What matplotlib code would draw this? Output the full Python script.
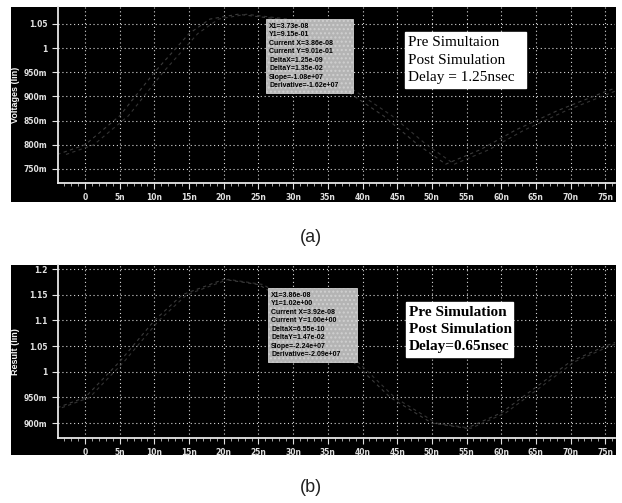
import numpy as np
import matplotlib
matplotlib.use("Agg")
import matplotlib.pyplot as plt
from matplotlib.patches import Rectangle

# ---------------- data ----------------
x_ticks = [0, 5, 10, 15, 20, 25, 30, 35, 40, 45, 50, 55, 60, 65, 70, 75]
x_tick_labels = ["0", "5n", "10n", "15n", "20n", "25n", "30n", "35n", "40n",
                 "45n", "50n", "55n", "60n", "65n", "70n", "75n"]

a_y_ticks = [0.75, 0.80, 0.85, 0.90, 0.95, 1.00, 1.05]
a_y_labels = ["750m", "800m", "850m", "900m", "950m", "1", "1.05"]
b_y_ticks = [0.90, 0.95, 1.00, 1.05, 1.10, 1.15, 1.20]
b_y_labels = ["900m", "950m", "1", "1.05", "1.1", "1.15", "1.2"]

# traces (time in ns, value in V) - faint in the original print
a_t = [-4, 0, 5, 10, 15, 18, 22, 28, 33, 37.3, 43, 48, 52, 57, 62, 68, 75, 77]
a_pre = [0.78, 0.80, 0.86, 0.95, 1.03, 1.06, 1.07, 1.06, 1.00, 0.915, 0.86, 0.80, 0.76, 0.79, 0.83, 0.87, 0.91, 0.92]
a_delay = 1.25

b_t = [-4, 0, 5, 10, 14, 20, 25, 30, 35, 38.6, 44, 50, 55, 60, 66, 70, 75, 77]
b_pre = [0.93, 0.95, 1.02, 1.10, 1.15, 1.18, 1.17, 1.13, 1.06, 1.02, 0.95, 0.90, 0.89, 0.92, 0.98, 1.02, 1.05, 1.06]
b_delay = 0.65

a_marker_lines = ["X1=3.73e-08", "Y1=9.15e-01", "Current X=3.86e-08", "Current Y=9.01e-01",
                  "DeltaX=1.25e-09", "DeltaY=1.35e-02", "Slope=-1.08e+07", "Derivative=-1.62e+07"]
b_marker_lines = ["X1=3.86e-08", "Y1=1.02e+00", "Current X=3.92e-08", "Current Y=1.00e+00",
                  "DeltaX=6.55e-10", "DeltaY=1.47e-02", "Slope=-2.24e+07", "Derivative=-2.09e+07"]
a_legend = ["Pre Simultaion", "Post Simulation", "Delay = 1.25nsec"]
b_legend = ["Pre Simulation", "Post Simulation", "Delay=0.65nsec"]

# ---------------- layout helpers ----------------
W, H = 622, 503
fig = plt.figure(figsize=(W / 100, H / 100), dpi=100)
fig.patch.set_facecolor("white")


def fx(px):
    return px / W


def fy(py):
    return 1 - py / H


def rect_px(x0, y0, x1, y1, **kw):
    r = Rectangle((fx(x0), fy(y1)), fx(x1) - fx(x0), fy(y0) - fy(y1),
                  transform=fig.transFigure, **kw)
    fig.add_artist(r)
    return r


def panel(black_box, ax_box, ylim, yticks, ylabels, ylabel, t, pre, delay,
          mbox, mlines, lbox, llines, lweight, cap, cap_y):
    bx0, by0, bx1, by1 = black_box
    rect_px(bx0, by0, bx1, by1, facecolor="black", edgecolor="none", zorder=-1)
    ax0, ay0, ax1, ay1 = ax_box
    ax = fig.add_axes([fx(ax0), fy(ay1), fx(ax1) - fx(ax0), fy(ay0) - fy(ay1)])
    ax.set_facecolor("black")
    ax.set_xlim(-3.9, 76.4)
    ax.set_ylim(*ylim)
    ax.set_xticks(x_ticks)
    ax.set_xticklabels(x_tick_labels)
    ax.set_xticks(np.arange(-3, 77, 1), minor=True)
    ax.set_yticks(yticks)
    ax.set_yticklabels(ylabels)
    for s in ["top", "right"]:
        ax.spines[s].set_visible(False)
    for s in ["left", "bottom"]:
        ax.spines[s].set_color("#e8e8e8")
        ax.spines[s].set_linewidth(1.3)
    ax.tick_params(axis="both", colors="#e0e0e0", labelsize=5.5, length=4, width=0.8)
    ax.tick_params(axis="x", which="minor", colors="#c0c0c0", length=2.5, width=0.6)
    for lab in ax.get_xticklabels() + ax.get_yticklabels():
        lab.set_fontweight("bold")
    ax.grid(True, color="#d8d8d8", linestyle=(0, (1, 2.5)), linewidth=0.8)
    ax.set_axisbelow(True)

    tt = np.array(t)
    ax.plot(tt, pre, color="#3c3c3c", linewidth=0.8, linestyle=(0, (3, 3)), zorder=2)
    ax.plot(tt + delay, pre, color="#333333", linewidth=0.8, linestyle=(0, (3, 3)), zorder=2)

    # y axis title
    fig.text(fx(16), fy((ay0 + ay1) / 2), ylabel, rotation=90, fontsize=6.5,
             fontweight="bold", color="#f2f2f2", ha="center", va="center",
             family="Liberation Sans", zorder=7)

    # marker box
    mx0, my0, mx1, my1 = mbox
    rect_px(mx0, my0, mx1, my1, facecolor="#b4b4b4", edgecolor="#d0d0d0",
            linewidth=0.6, hatch="....", zorder=5)
    step = (my1 - my0 - 6) / len(mlines)
    for i, line in enumerate(mlines):
        fig.text(fx(mx0 + 3), fy(my0 + 3 + step * (i + 0.5)), line, fontsize=5,
                 fontweight="bold", color="black", va="center", ha="left",
                 family="Liberation Sans", zorder=6)

    # legend / delay box
    lx0, ly0, lx1, ly1 = lbox
    rect_px(lx0, ly0, lx1, ly1, facecolor="white", edgecolor="white", zorder=5)
    lstep = (ly1 - ly0 - 4) / len(llines)
    for i, line in enumerate(llines):
        fig.text(fx(lx0 + 3), fy(ly0 + 2 + lstep * (i + 0.5)), line, fontsize=11,
                 fontweight=lweight, color="black", va="center", ha="left",
                 family="Liberation Serif", zorder=6)

    fig.text(fx(311), fy(cap_y), cap, fontsize=13, ha="center", va="center",
             family="Liberation Sans", color="#222222")
    return ax


panel((11, 7, 616, 202), (58, 7, 615, 183), (0.721, 1.085), a_y_ticks, a_y_labels,
      "Voltages (lin)", a_t, a_pre, a_delay,
      (266, 19, 353, 93), a_marker_lines,
      (405, 32, 526, 88), a_legend, "normal", "(a)", 237)

panel((11, 265, 616, 455), (58, 265, 615, 438), (0.871, 1.208), b_y_ticks, b_y_labels,
      "Result (lin)", b_t, b_pre, b_delay,
      (268, 288, 357, 362), b_marker_lines,
      (406, 302, 513, 357), b_legend, "bold", "(b)", 487)

fig.savefig("out.png", dpi=100, facecolor="white")
